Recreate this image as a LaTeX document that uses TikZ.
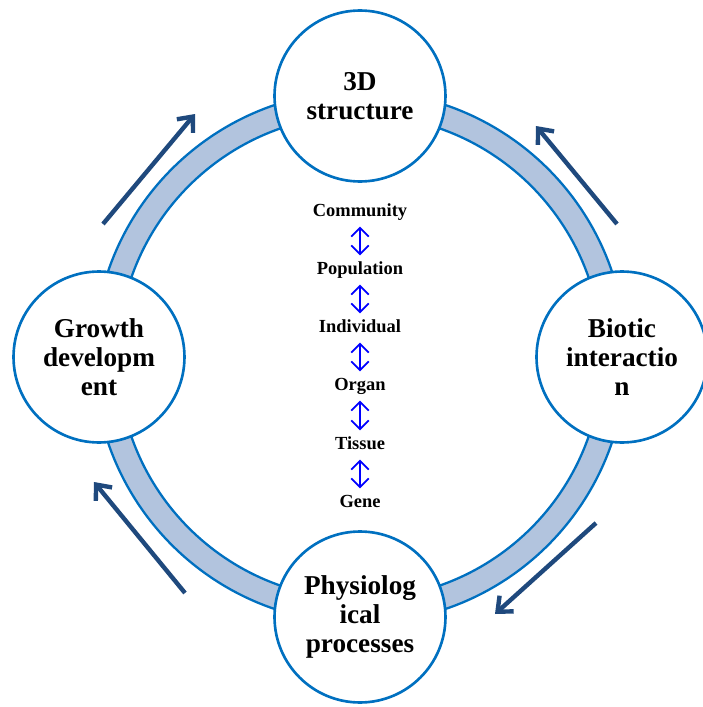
\documentclass[tikz,border=0pt]{standalone}
\usepackage{fontspec}
\setmainfont{Liberation Serif}
\usetikzlibrary{arrows.meta}
\definecolor{ringblue}{RGB}{0,112,192}
\definecolor{ringfill}{RGB}{178,196,222}
\definecolor{cyclearrow}{RGB}{31,73,125}

\begin{document}
\begin{tikzpicture}[x=0.02cm,y=0.02cm]
  \useasboundingbox (-360,-350) rectangle (343,357);
    \tikzstyle{stage}=[circle,draw=ringblue,fill=white,line width=1.5pt,minimum size=3.42cm,inner sep=0pt,align=center,font=\fontsize{15.5}{16.5}\selectfont\bfseries]
    \tikzstyle{level}=[font=\fontsize{10.5}{12}\selectfont\bfseries,text height=1.6ex,text depth=.4ex,inner sep=2pt]
    \tikzstyle{link}=[blue,line width=1pt,{Straight Barb[length=5pt,width=10pt]}-{Straight Barb[length=5pt,width=10pt]},shorten <=1.5pt,shorten >=1.5pt]
    \tikzstyle{cycle}=[cyclearrow,line width=2.5pt,-{Straight Barb[length=7pt,width=12pt]}]

  % ring
  \fill[ringfill,even odd rule] (0,0) circle (266) (0,0) circle (242);
  \draw[ringblue,line width=1.3pt] (0,0) circle (266) (0,0) circle (242);

  \node[stage] (struct) at (90:261) {3D\\structure};
  \node[stage] (biotic) at (0:262) {Biotic\\interactio\\n};
  \node[stage] (physio) at (270:260) {Physiolog\\ical\\processes};
  \node[stage] (growth) at (180:261) {Growth\\developm\\ent};

  % levels
  \node[level] (community) at (0,145) {Community};
  \node[level] (population) at (0,87) {Population};
  \node[level] (individual) at (0,29) {Individual};
  \node[level] (organ) at (0,-29) {Organ};
  \node[level] (tissue) at (0,-88) {Tissue};
  \node[level] (gene) at (0,-146) {Gene};

  \draw[link] (community) -- (population);
  \draw[link] (population) -- (individual);
  \draw[link] (individual) -- (organ);
  \draw[link] (organ) -- (tissue);
  \draw[link] (tissue) -- (gene);

  % cycle arrows
  \coordinate (tlS) at (-257,133);
  \coordinate (tlE) at (-165,243);
  \coordinate (trS) at (257,133);
  \coordinate (trE) at (176,231);
  \coordinate (brS) at (236,-166);
  \coordinate (brE) at (135,-257);
  \coordinate (blS) at (-175,-236);
  \coordinate (blE) at (-266,-125);
  \draw[cycle] (tlS) -- (tlE);
  \draw[cycle] (trS) -- (trE);
  \draw[cycle] (brS) -- (brE);
  \draw[cycle] (blS) -- (blE);
\end{tikzpicture}
\end{document}
